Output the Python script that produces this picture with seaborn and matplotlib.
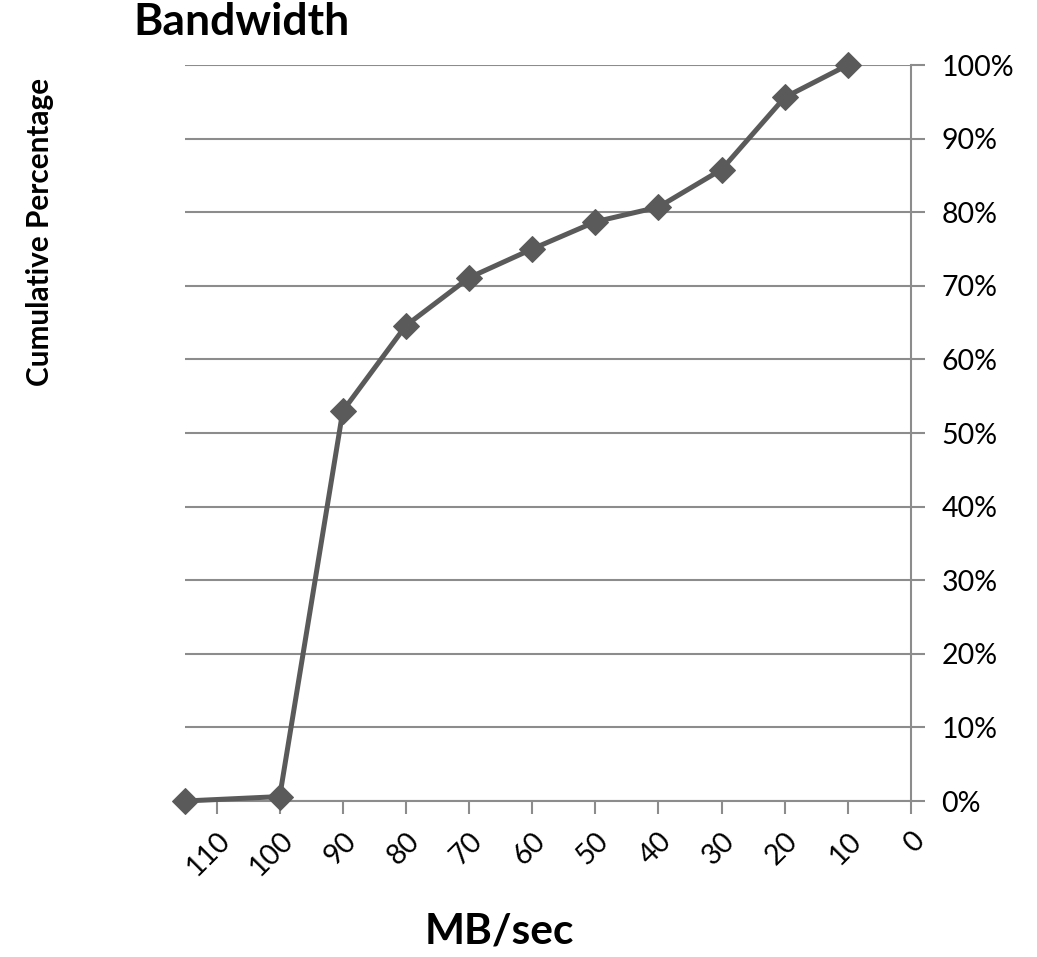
import matplotlib
matplotlib.use("Agg")
import matplotlib.pyplot as plt
import pandas as pd
import seaborn as sns
from matplotlib.ticker import PercentFormatter

# Wartości
mb_per_sec = [115, 100, 90, 80, 70, 60, 50, 40, 30, 20, 10]
cumulative_pct = [0.0, 0.6, 53.0, 64.6, 71.1, 75.0, 78.7, 80.7, 85.8, 95.6, 100.0]
x_ticks = [110, 100, 90, 80, 70, 60, 50, 40, 30, 20, 10, 0]
y_ticks = [0, 10, 20, 30, 40, 50, 60, 70, 80, 90, 100]

sns.set_style("white")
plt.rcParams['font.family'] = ['Lato', 'DejaVu Sans']

df = pd.DataFrame({"mb": mb_per_sec, "pct": cumulative_pct})

line_col = "#5a5a5a"
grid_col = "#8c8c8c"

fig = plt.figure(figsize=(10.37, 9.57), dpi=100)
ax = fig.add_axes([185 / 1037, 1 - 801 / 957, (911 - 185) / 1037, (801 - 65) / 957])

sns.lineplot(data=df, x="mb", y="pct", ax=ax, sort=False, color=line_col,
             linewidth=3.6, marker="D", markersize=13, markeredgecolor=line_col,
             markerfacecolor=line_col, clip_on=False, zorder=5)

ax.set_xlim(115, 0)
ax.set_ylim(0, 100)
ax.set_xticks(x_ticks)
ax.set_yticks(y_ticks)
ax.yaxis.set_major_formatter(PercentFormatter(decimals=0))
ax.yaxis.tick_right()

ax.grid(axis="y", color=grid_col, linewidth=1.5)
ax.grid(axis="x", visible=False)
ax.set_axisbelow(True)

for side in ["top", "left"]:
    ax.spines[side].set_visible(False)
for side in ["bottom", "right"]:
    ax.spines[side].set_color(grid_col)
    ax.spines[side].set_linewidth(1.5)

ax.tick_params(axis="x", direction="out", length=9, width=1.5, color=grid_col,
               labelsize=20.5, pad=10, bottom=True, labelcolor="black")
ax.tick_params(axis="y", direction="out", length=10, width=1.5, color=grid_col,
               labelsize=20.5, pad=12, right=True, left=False, labelcolor="black")
for lbl in ax.get_xticklabels():
    lbl.set_rotation(45)
    lbl.set_ha("right")
    lbl.set_rotation_mode("anchor")

ax.set_xlabel("")
ax.set_ylabel("")

fig.text(133 / 1037, 1 - 22 / 957, "Bandwidth", fontsize=32, fontweight="bold",
         ha="left", va="center", color="black")
fig.text(499 / 1037, 1 - 931 / 957, "MB/sec", fontsize=30.5, fontweight="bold",
         ha="center", va="center", color="black")
fig.text(40 / 1037, 1 - 232 / 957, "Cumulative Percentage", fontsize=21.4,
         fontweight="bold", rotation=90, ha="center", va="center", color="black")

fig.savefig("out.png", dpi=100)
